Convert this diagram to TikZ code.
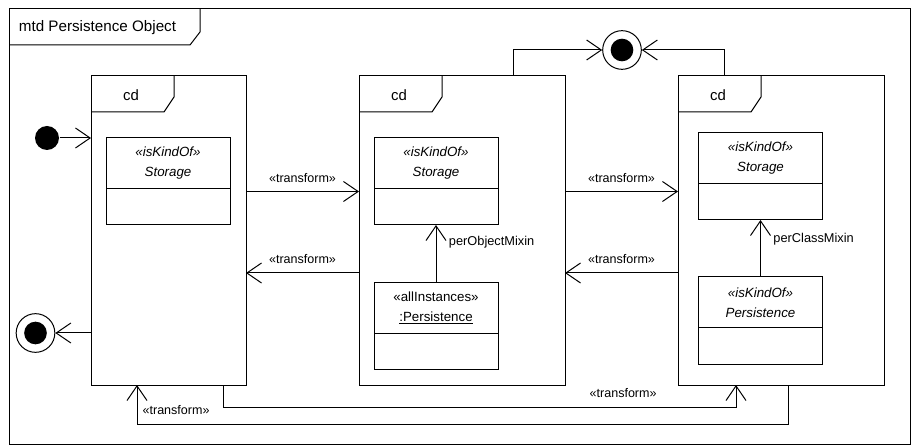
\documentclass[tikz,border=0pt]{standalone}
\usepackage{fontspec}
\setmainfont{Liberation Sans}
\usetikzlibrary{arrows.meta,positioning}

\begin{document}
\begin{tikzpicture}[x=0.75pt,y=-0.75pt,line width=0.75pt,
	>={Straight Barb[length=11pt,width=15pt,line width=0.75pt]},
	cdframe/.style={draw,minimum width=154.5pt,minimum height=231.75pt,inner sep=0pt,outer sep=0pt},
	classhead/.style={draw,minimum width=93pt,minimum height=38.25pt,inner sep=0pt,outer sep=0pt,align=center,font=\fontsize{10}{15}\selectfont},
	classbody/.style={draw,minimum width=93pt,minimum height=27pt,inner sep=0pt,outer sep=0pt},
	trlabel/.style={font=\fontsize{9.4}{11}\selectfont,above=3pt},
	startdot/.style={circle,fill,minimum size=18pt,inner sep=0pt},
	enddot/.style={circle,draw,minimum size=29pt,inner sep=0pt,path picture={\fill (path picture bounding box.center) circle (8.5pt);}}]
	\useasboundingbox (0,0) rectangle (912,448);
	\draw (9,9) rectangle (910,444);
	\draw (9,45) -- (190,45) -- (200,32) -- (200,9);
	\node[font=\fontsize{11.4}{13}\selectfont] (title) at (97.5,28) {mtd Persistence Object};

	\node[cdframe,minimum width=116.25pt] (f1) at (168.5,230.5) {};
	\node[cdframe] (f2) at (462,230.5) {};
	\node[cdframe] (f3) at (781,230.5) {};
	\foreach \f in {f1,f2,f3} {
		\draw (\f.north west) ++(0,36) -- ++(73,0) -- ++(10,-15) -- ++(0,-21);
		\node[font=\fontsize{11.2}{13}\selectfont] (\f-cd) at ([xshift=30pt,yshift=-14.6pt]\f.north west) {cd};
	}

	\node[classhead] (s1) at (168,163.5) {\textit{«isKindOf»}\\\textit{Storage}};
	\node[classbody,below=0pt of s1] (s1b) {};
	\node[classhead] (s2) at (436,163.5) {\textit{«isKindOf»}\\\textit{Storage}};
	\node[classbody,below=0pt of s2] (s2b) {};
	\node[classhead] (p2) at (436,308) {«allInstances»\\\underline{:Persistence}};
	\node[classbody,below=0pt of p2] (p2b) {};
	\node[classhead] (s3) at (760.5,158.5) {\textit{«isKindOf»}\\\textit{Storage}};
	\node[classbody,below=0pt of s3] (s3b) {};
	\node[classhead] (p3) at (760.5,302.5) {\textit{«isKindOf»}\\\textit{Persistence}};
	\node[classbody,below=0pt of p3] (p3b) {};

	\path[->,font=\fontsize{9.6}{11}\selectfont]
	(p2) edge node[pos=0.7,right=6pt]{perObjectMixin} (s2b)
	(p3) edge node[pos=0.67,right=6pt]{perClassMixin} (s3b);

	\node[startdot] (init) at (47,138) {};
	\node[enddot] (fin1) at (35.5,333) {};
	\node[enddot] (fin2) at (622,50) {};
	\draw[->] (init) -- (init -| f1.west);
	\draw[->] (fin1 -| f1.west) -- (fin1);
	\draw[->] ([xshift=38.25pt]f2.north) |- (fin2);
	\draw[->] ([xshift=-42.75pt]f3.north) |- (fin2);

	\path[->]
	([yshift=29.25pt]f1.east) edge node[trlabel]{«transform»} ([yshift=29.25pt]f2.west)
	([yshift=-31.875pt]f2.west) edge node[trlabel]{«transform»} ([yshift=-31.875pt]f1.east)
	([yshift=29.25pt]f2.east) edge node[trlabel]{«transform»} ([yshift=29.25pt]f3.west)
	([yshift=-31.875pt]f3.west) edge node[trlabel]{«transform»} ([yshift=-31.875pt]f2.east);
	\draw[->] ([xshift=40.875pt]f1.south) -- ++(0,22) -| ([xshift=-33.75pt]f3.south) node[pos=0.39,trlabel]{«transform»};
	\draw[->] ([xshift=5.25pt]f3.south) -- ++(0,39) -| ([xshift=-23.625pt]f1.south) node[pos=0.47,trlabel]{«transform»};
\end{tikzpicture}
\end{document}
